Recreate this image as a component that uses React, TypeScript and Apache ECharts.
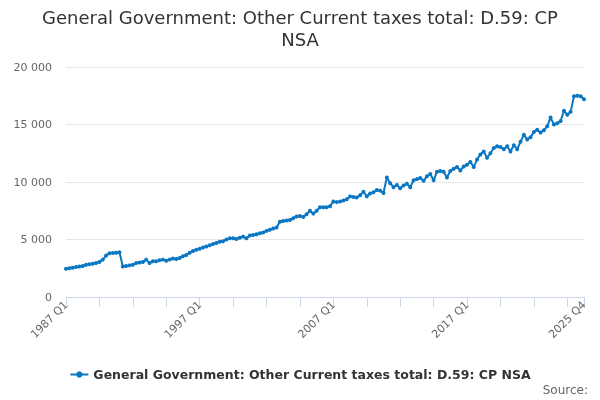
import * as echarts from "echarts";
import { useEffect, useRef } from "react";

const startYear = 1987;
const endYear = 2025;
const quarters = ["Q1", "Q2", "Q3", "Q4"];
const categories: string[] = [];
for (let y = startYear; y <= endYear; y++) {
  for (const q of quarters) categories.push(y + " " + q);
}

// values, one per quarter, 1987 Q1 .. 2025 Q4
const values1987to1996 = [
  2450, 2500, 2550, 2600, 2650, 2700, 2800, 2850, 2900, 2950,
  3050, 3250, 3600, 3800, 3820, 3850, 3900, 2650, 2700, 2750,
  2800, 2950, 3000, 3050, 3250, 2950, 3100, 3100, 3200, 3250,
  3150, 3250, 3350, 3300, 3400, 3550, 3650, 3850, 4000, 4100,
];
const values1997to2006 = [
  4200, 4300, 4400, 4500, 4600, 4700, 4800, 4850, 5000, 5100,
  5100, 5050, 5150, 5250, 5100, 5350, 5400, 5450, 5550, 5600,
  5750, 5850, 5950, 6050, 6550, 6600, 6650, 6700, 6850, 7000,
  7050, 6950, 7200, 7500, 7250, 7500, 7800, 7800, 7800, 7900,
];
const values2007to2016 = [
  8300, 8250, 8300, 8400, 8500, 8750, 8700, 8650, 8850, 9150,
  8750, 9000, 9100, 9300, 9250, 9050, 10400, 9900, 9550, 9750,
  9450, 9700, 9850, 9550, 10150, 10250, 10350, 10100, 10500, 10700,
  10150, 10900, 10950, 10900, 10400, 10950, 11150, 11300, 11000, 11350,
];
const values2017to2025 = [
  11500, 11750, 11300, 11950, 12400, 12650, 12100, 12500, 12950, 13100,
  13050, 12850, 13100, 12650, 13200, 12850, 13500, 14100, 13700, 13900,
  14350, 14550, 14300, 14500, 14850, 15600, 15000, 15100, 15300, 16200,
  15850, 16100, 17450, 17500, 17450, 17200,
];
const seriesValues = [
  ...values1987to1996,
  ...values1997to2006,
  ...values2007to2016,
  ...values2017to2025,
];

const seriesName = "General Government: Other Current taxes total: D.59: CP NSA";
const titleLines = ["General Government: Other Current taxes total: D.59: CP", "NSA"];
const lineColor = "#0b77c2";
const font = "DejaVu Sans, Verdana, sans-serif";

const App = () => {
  const chartRef = useRef<HTMLDivElement>(null);

  useEffect(() => {
    const myChart = echarts.init(chartRef.current, null, { renderer: "svg" });
    const last = categories.length - 1;
    const option = {
      animation: false,
      textStyle: { fontFamily: font },
      grid: { left: 66, right: 16, top: 67, bottom: 103 },
      xAxis: {
        type: "category",
        data: categories,
        boundaryGap: false,
        axisLine: { lineStyle: { color: "#ccd6eb" } },
        axisTick: {
          length: 10,
          lineStyle: { color: "#ccd6eb" },
          interval: (i: number) => i % 10 === 0 || i === last,
        },
        axisLabel: {
          rotate: 45,
          color: "#666666",
          fontSize: 11,
          margin: 6,
          fontFamily: font,
          interval: (i: number) => i % 40 === 0 || i === last,
        },
      },
      yAxis: {
        type: "value",
        min: 0,
        max: 20000,
        interval: 5000,
        axisLabel: {
          color: "#666666",
          fontSize: 11,
          margin: 14,
          fontFamily: font,
          formatter: (v: number) => String(v).replace(/\B(?=(\d{3})+(?!\d))/g, " "),
        },
        splitLine: { lineStyle: { color: "#e6e6e6" } },
      },
      legend: {
        bottom: 14,
        left: "center",
        itemWidth: 18,
        itemHeight: 8,
        itemGap: 5,
        data: [seriesName],
        textStyle: { fontSize: 12.5, fontWeight: "bold", color: "#333333", fontFamily: font },
      },
      graphic: [
        {
          type: "text",
          left: "center",
          top: 6,
          style: {
            text: titleLines.join("\n"),
            textAlign: "center",
            fill: "#333333",
            fontSize: 18,
            lineHeight: 22,
            fontFamily: font,
          },
        },
        {
          type: "text",
          right: 12,
          bottom: 4,
          style: { text: "Source:", fill: "#666666", fontSize: 12, fontFamily: font },
        },
      ],
      series: [
        {
          name: seriesName,
          type: "line",
          data: seriesValues,
          symbol: "circle",
          symbolSize: 4,
          showSymbol: true,
          showAllSymbol: true,
          color: lineColor,
          lineStyle: { width: 2, color: lineColor },
          itemStyle: { color: lineColor },
        },
      ],
    };
    myChart.setOption(option as any);
    return () => {
      myChart.dispose();
    };
  }, []);

  return (
    <div style={{ position: "fixed", left: 0, top: 0 }}>
      <div ref={chartRef} style={{ width: "600px", height: "400px" }} />
    </div>
  );
};

export default App;
